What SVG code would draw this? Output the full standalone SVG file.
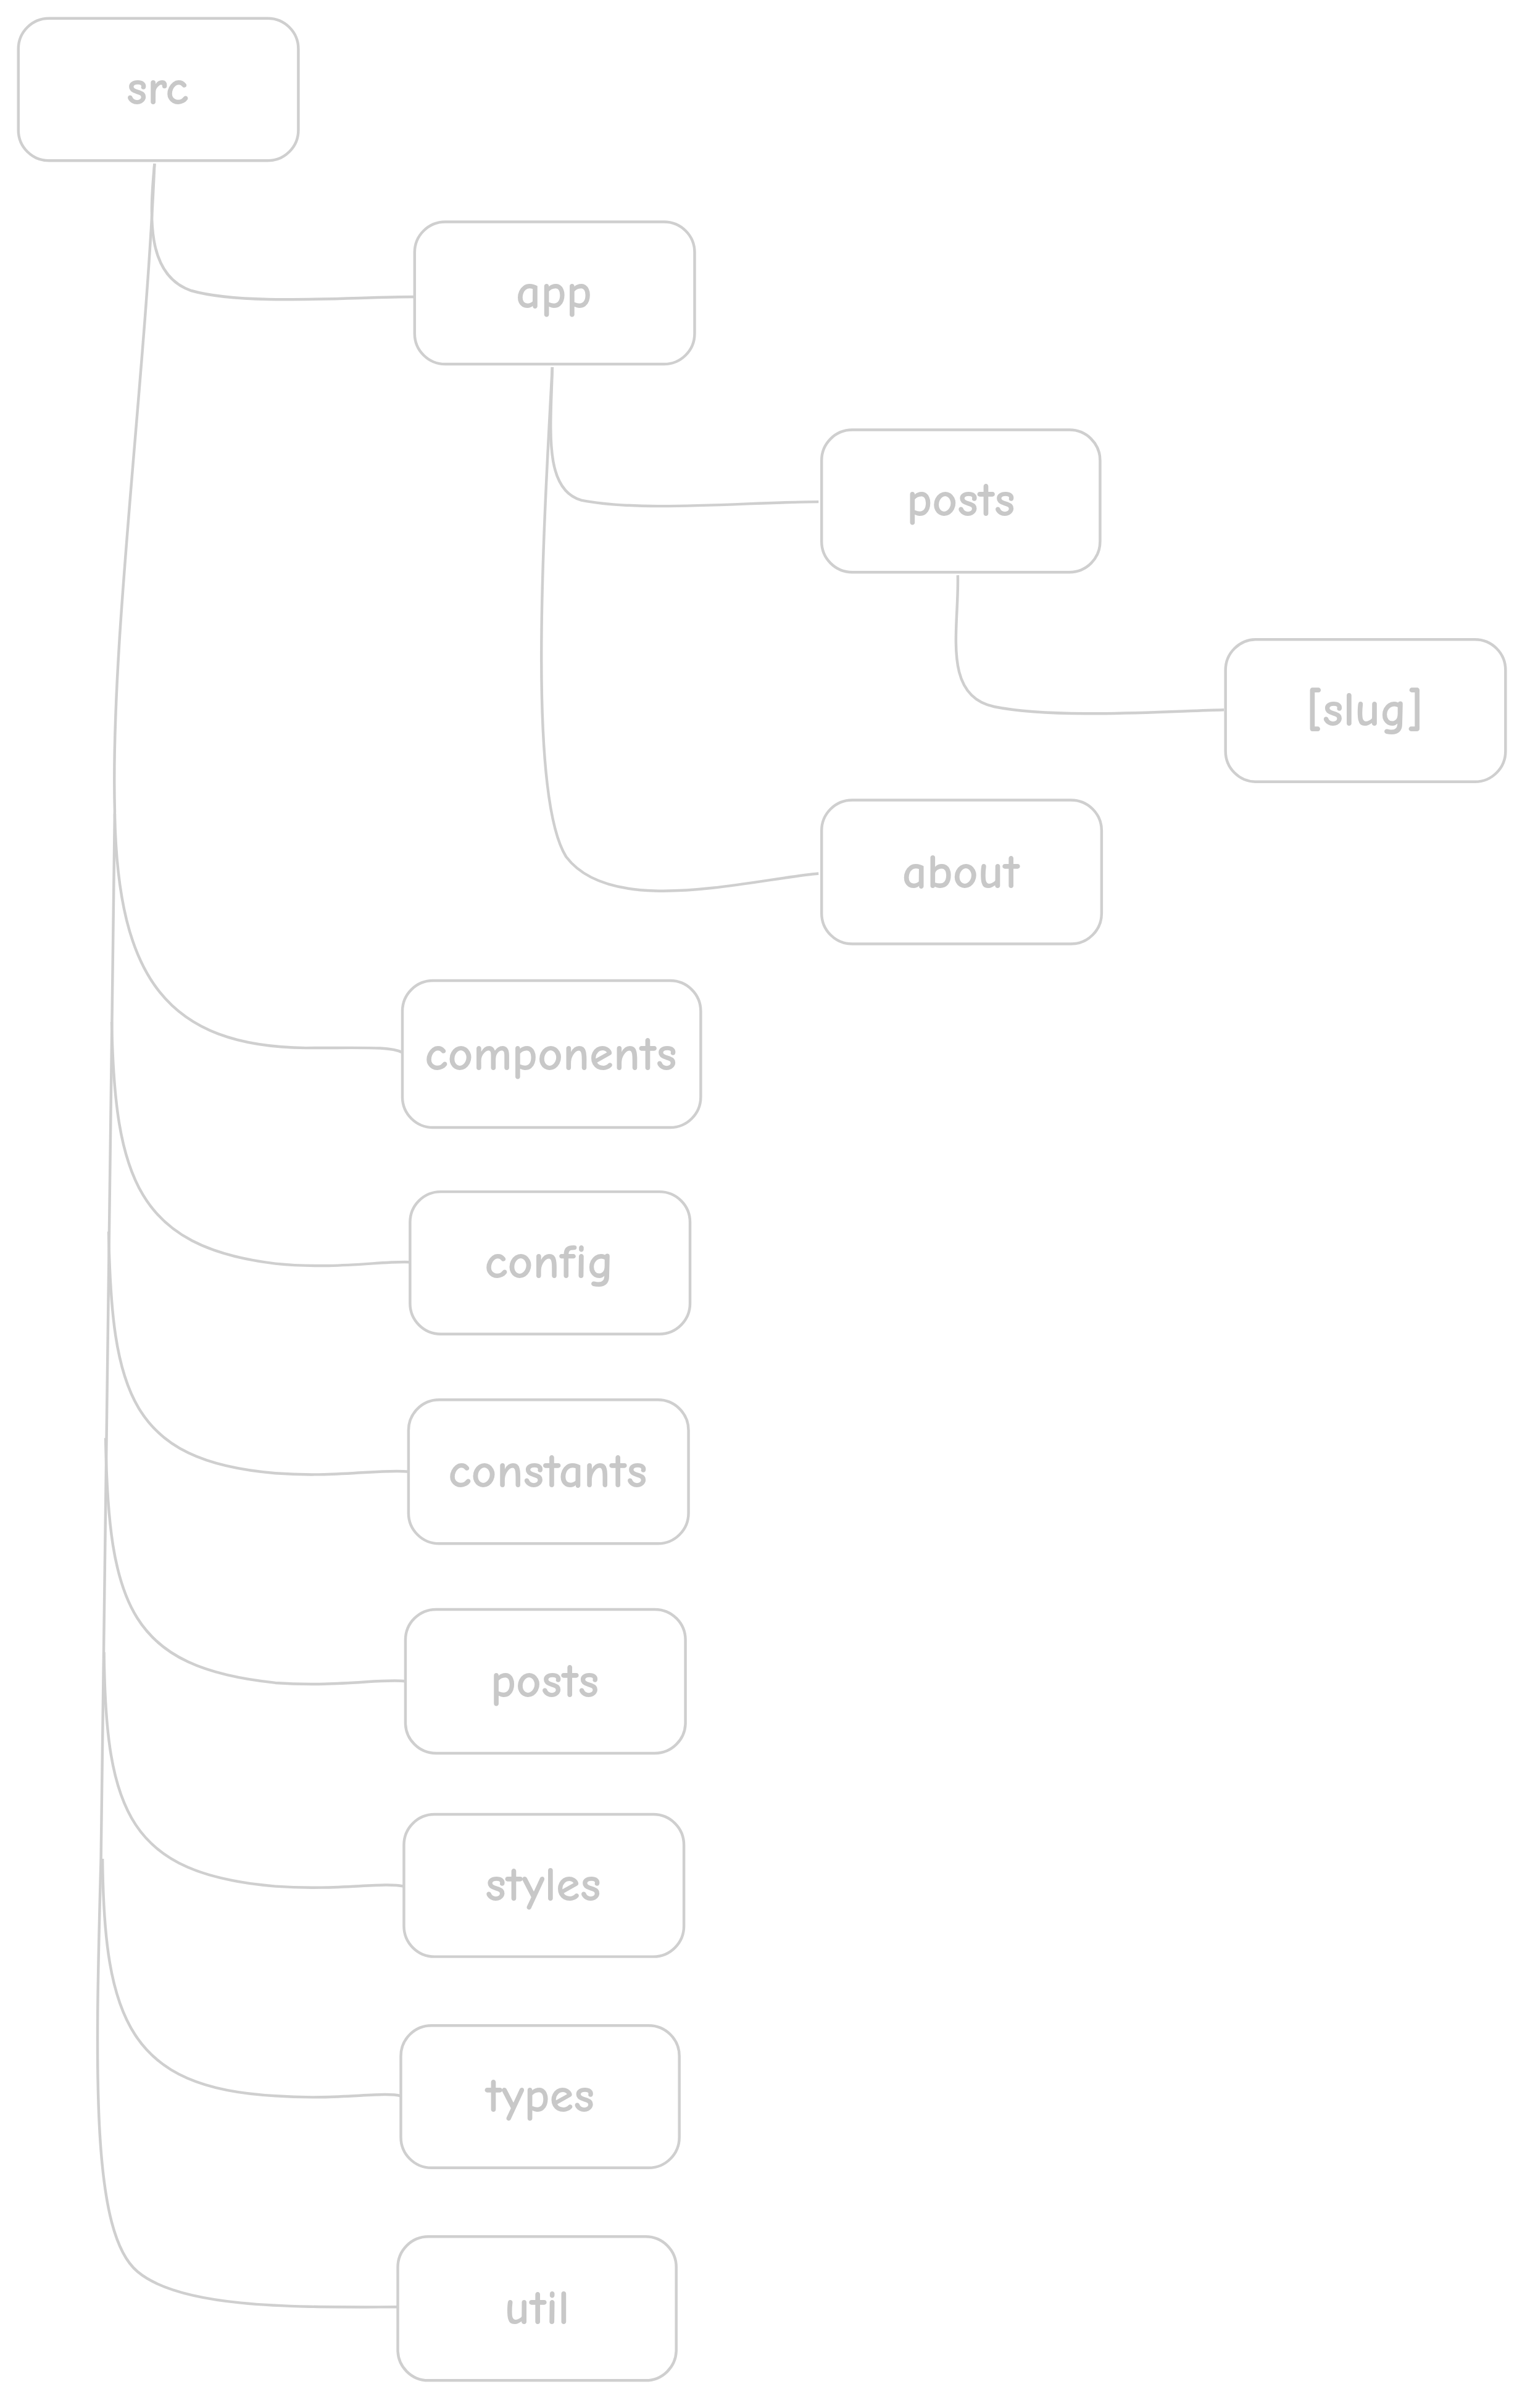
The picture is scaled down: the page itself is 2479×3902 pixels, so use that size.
<svg xmlns="http://www.w3.org/2000/svg" width="2479" height="3902" viewBox="0 0 2479 3902">
<style>
.n rect{fill:#ffffff;stroke:#cfcfcf;stroke-width:1.8}
.n text{font-family:"Comic Neue","Liberation Sans",sans-serif;font-size:32px;font-weight:bold;fill:#c8c8c8;text-anchor:middle;dominant-baseline:central}
.c path{fill:none;stroke:#cfcfcf;stroke-width:1.8}
</style>
<rect width="2479" height="3902" fill="#ffffff"/>
<g transform="scale(2.479)">
<g class="c" id="connectors">
<path d="M101,107 C98,140 95,180 125,190 C160,200 230,194 271,194"/>
<path d="M361,240 C360,280 355,320 380,327 C420,335 490,328 535,328"/>
<path d="M626,376 C627,410 615,455 650,462 C690,470 760,465 800,464"/>
<path d="M361,240 C355,350 345,520 370,560 C400,600 490,575 535,571"/>
<path d="M101,107 C95,250 72,420 75,530 L66,1215"/>
<path d="M75,532 C77,640 110,684 200,685 C240,685 255,684 263,688"/>
<path d="M73,668 C75,770 90,815 180,826 C220,830 250,824 268,825"/>
<path d="M71,805 C73,910 85,955 180,963 C220,966 250,960 267,962"/>
<path d="M69,940 C71,1050 85,1090 180,1100 C220,1103 250,1097 265,1099"/>
<path d="M68,1080 C69,1185 85,1225 180,1233 C220,1236 250,1230 264,1233"/>
<path d="M67,1215 C68,1320 85,1365 180,1370 C220,1373 250,1367 262,1370"/>
<path d="M66,1215 C62,1360 60,1460 90,1485 C120,1510 200,1508 260,1508"/>
</g>
<g class="n" id="src"><rect x="12" y="12" width="183" height="93" rx="20"/><text x="103" y="58">src</text></g>
<g class="n" id="app"><rect x="271" y="145" width="183" height="93" rx="20"/><text x="362" y="191">app</text></g>
<g class="n" id="app-posts"><rect x="537" y="281" width="182" height="93" rx="20"/><text x="628" y="327">posts</text></g>
<g class="n" id="slug"><rect x="801" y="418" width="183" height="93" rx="20"/><text x="892" y="464">[slug]</text></g>
<g class="n" id="about"><rect x="537" y="523" width="183" height="94" rx="20"/><text x="628" y="570">about</text></g>
<g class="n" id="components"><rect x="263" y="641" width="195" height="96" rx="20"/><text x="360" y="689">components</text></g>
<g class="n" id="config"><rect x="268" y="779" width="183" height="93" rx="20"/><text x="359" y="825">config</text></g>
<g class="n" id="constants"><rect x="267" y="915" width="183" height="94" rx="20"/><text x="358" y="962">constants</text></g>
<g class="n" id="posts"><rect x="265" y="1052" width="183" height="94" rx="20"/><text x="356" y="1099">posts</text></g>
<g class="n" id="styles"><rect x="264" y="1186" width="183" height="93" rx="20"/><text x="355" y="1232">styles</text></g>
<g class="n" id="types"><rect x="262" y="1324" width="182" height="93" rx="20"/><text x="353" y="1370">types</text></g>
<g class="n" id="util"><rect x="260" y="1462" width="182" height="94" rx="20"/><text x="351" y="1509">util</text></g>
</g>
</svg>
